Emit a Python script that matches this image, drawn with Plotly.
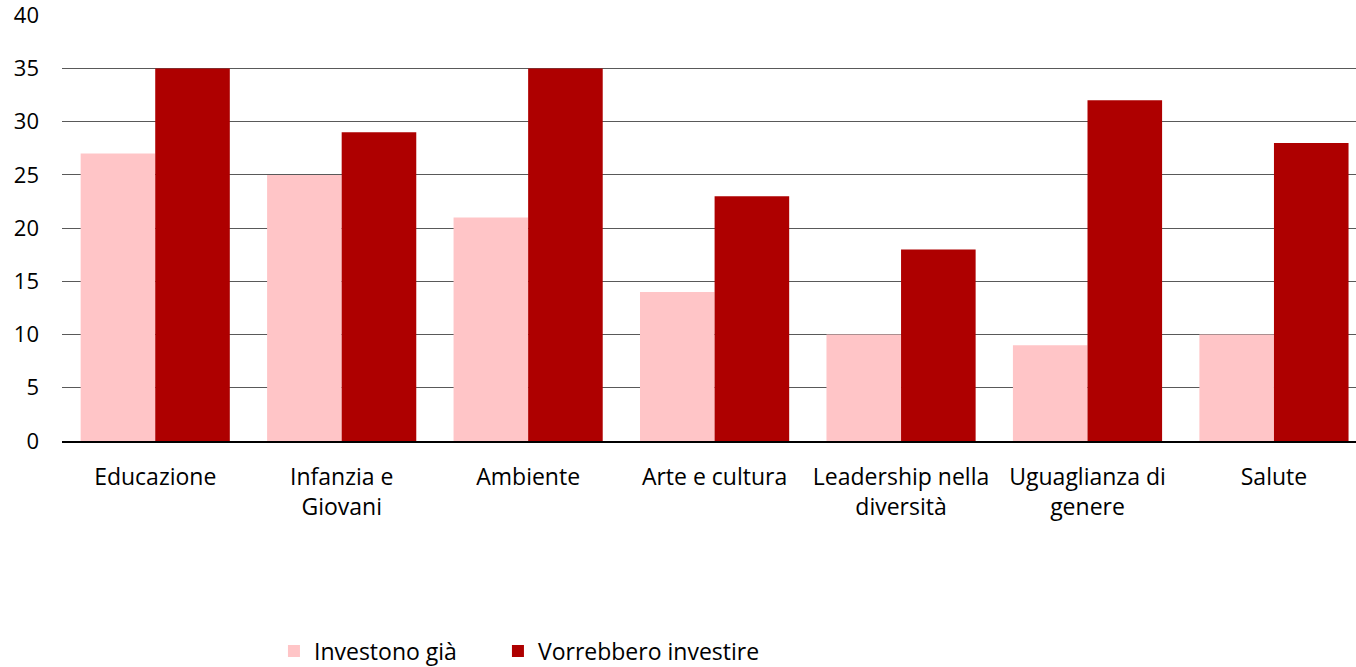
import plotly.graph_objects as go

categories = ["Educazione", "Infanzia e<br>Giovani", "Ambiente", "Arte e cultura",
              "Leadership nella<br>diversità", "Uguaglianza di<br>genere", "Salute"]
investono_gia = [27, 25, 21, 14, 10, 9, 10]
vorrebbero_investire = [35, 29, 35, 23, 18, 32, 28]
y_ticks = [0, 5, 10, 15, 20, 25, 30, 35, 40]

FONT = "Open Sans"

fig = go.Figure()
fig.add_trace(go.Bar(x=categories, y=investono_gia, name="Investono già",
                     marker=dict(color="#FFC5C7", line=dict(width=0)), legend="legend"))
fig.add_trace(go.Bar(x=categories, y=vorrebbero_investire, name="Vorrebbero investire",
                     marker=dict(color="#AE0000", line=dict(width=0)), legend="legend2"))

legend_common = dict(orientation="h", xanchor="left", y=-0.493, yanchor="middle",
                     font=dict(size=23, family=FONT), bgcolor="rgba(0,0,0,0)")

fig.update_layout(
    width=1356, height=667,
    margin=dict(l=62, r=0, t=15, b=226, autoexpand=False),
    plot_bgcolor="white", paper_bgcolor="white",
    barmode="group", bargap=0.2, bargroupgap=0,
    font=dict(family=FONT, size=22, color="#000000"),
    showlegend=True,
    legend=dict(x=0.1638, **legend_common),
    legend2=dict(x=0.3369, **legend_common),
    xaxis=dict(range=[-0.5, 6.44], showgrid=False, showline=True, automargin=False,
               linecolor="#000000", linewidth=2, ticks="", tickfont=dict(size=23),
               ticklabelstandoff=14),
    yaxis=dict(range=[0, 40.02], tickvals=y_ticks, showgrid=True, automargin=False,
               gridcolor="#595959", gridwidth=1, zeroline=False, showline=False,
               ticks="", tickfont=dict(size=22), ticklabelstandoff=22,
               ticklabeloverflow="allow"),
)

fig.write_html("out.html", config={"displayModeBar": False},
               post_script="document.body.style.margin='0';")
